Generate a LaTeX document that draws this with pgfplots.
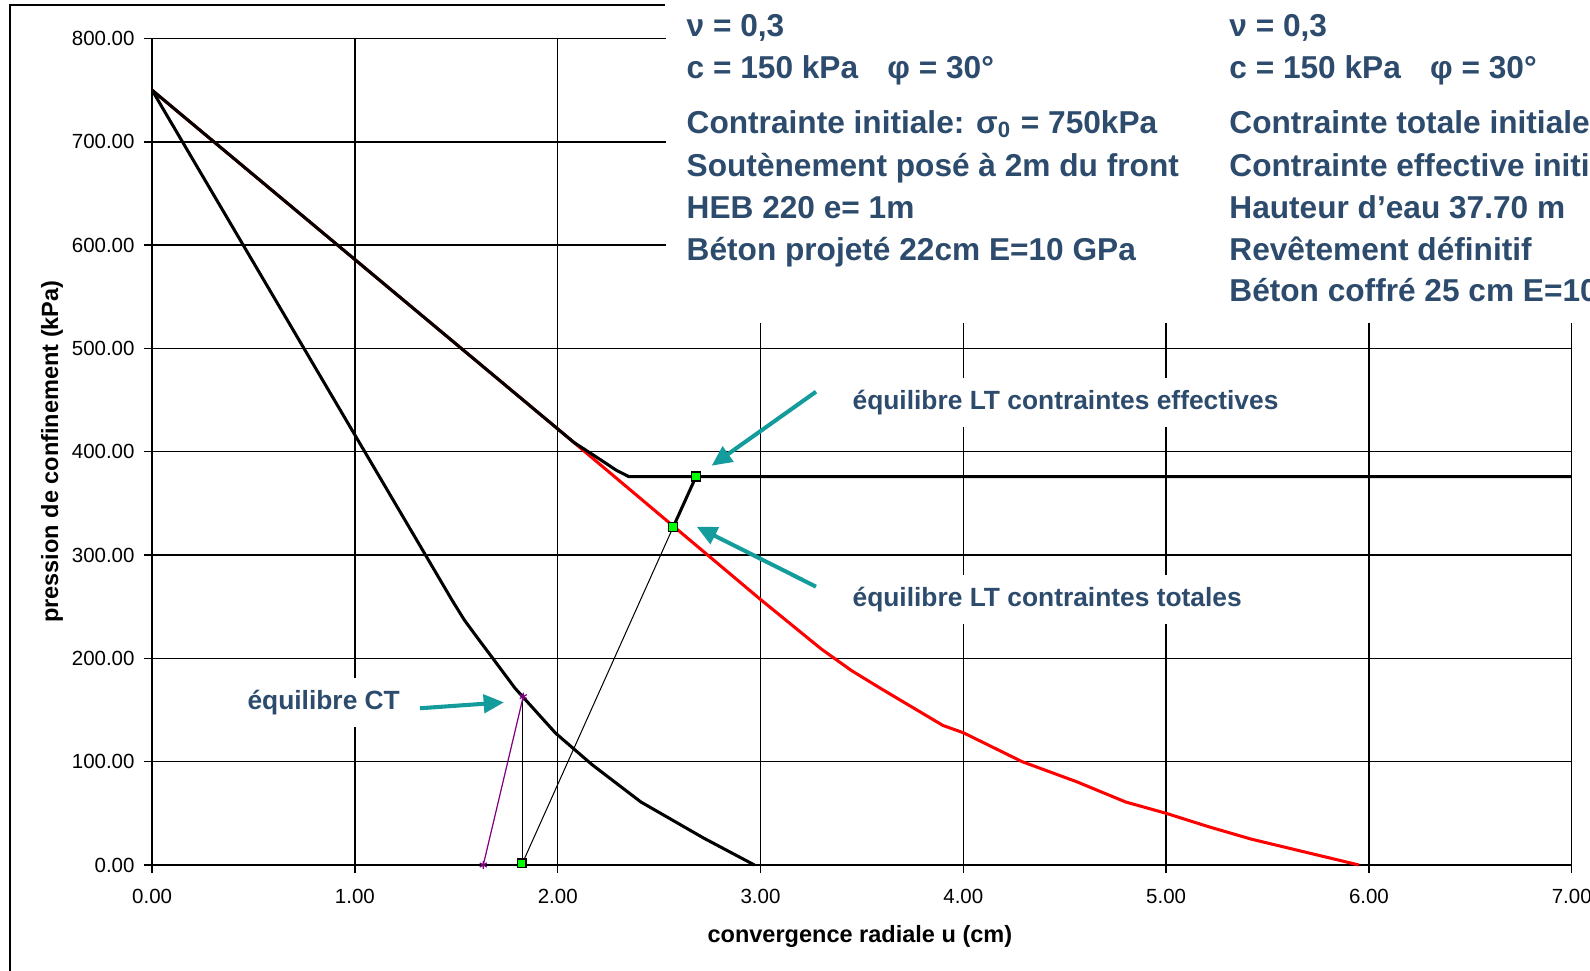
\documentclass[border=0pt]{standalone}
\usepackage{pgfplots}
\pgfplotsset{compat=1.18}
\usepackage{fontspec}
\setmainfont{Liberation Sans}
\usetikzlibrary{arrows.meta}
\definecolor{slate}{RGB}{45,75,108}
\definecolor{teal2}{RGB}{20,155,155}
\definecolor{lgreen}{RGB}{0,255,0}
\definecolor{purp}{RGB}{128,0,128}
\newcommand{\boxfont}{\fontsize{7.8pt}{9pt}\selectfont\bfseries}
\newcommand{\annfont}{\fontsize{6.5pt}{7.5pt}\selectfont\bfseries}
\begin{document}
\begin{tikzpicture}
\useasboundingbox (0,0) rectangle (392pt,239.25pt);
\begin{scope}
\clip (0,0) rectangle (392pt,239.25pt);
\begin{axis}[
  scale only axis, width=350pt, height=203.75pt,
  at={(37.5pt,26pt)}, anchor=south west,
  xmin=0, xmax=7, ymin=0, ymax=800,
  xtick={0,1,...,7}, ytick={0,100,...,800},
  axis x line*=bottom, axis y line*=left,
  axis line style={black, line width=0.45pt, -},
  grid=major, major grid style={black, line width=0.33pt},
  tick align=outside, major tick length=2pt,
  tick style={black, line width=0.33pt},
  ticklabel style={font=\fontsize{5.05pt}{5.6pt}\selectfont},
  yticklabel style={xshift=1.2pt},
  xticklabel style={yshift=-0.5pt},
  /pgf/number format/assume math mode=true,
  /pgf/number format/fixed, /pgf/number format/fixed zerofill,
  /pgf/number format/precision=2, /pgf/number format/1000 sep={},
  clip=false,
]
% long-term (total stress) convergence curve
\addplot[red, line width=0.75pt] coordinates {(0,750) (2.08,409) (2.57,328) (3.0,257) (3.3,209) (3.45,188) (3.6,170) (3.9,135) (4.0,128) (4.29,100) (4.56,80.5) (4.8,61) (5.0,50) (5.21,37) (5.42,25) (5.95,0)};
% long-term (effective stress) convergence curve
\addplot[black, line width=0.75pt] coordinates {(0,750) (2.08,409) (2.19,395) (2.29,382) (2.35,376) (7,376)};
% short-term convergence curve
\addplot[black, line width=0.75pt] coordinates {(0,750) (1.48,256) (1.54,237) (1.60,221) (1.68,200) (1.79,171) (1.99,127.5) (2.17,97) (2.41,61) (2.72,26) (2.97,0)};
% lining confinement curves
\addplot[black, line width=0.25pt] coordinates {(1.822,0) (2.57,327.4)};
\addplot[black, line width=0.75pt] coordinates {(2.57,327.4) (2.682,376)};
\addplot[black, line width=0.3pt] coordinates {(1.826,0) (1.826,163)};
\addplot[purp, line width=0.3pt, mark=asterisk, mark size=1pt, mark options={line width=0.3pt}] coordinates {(1.633,0) (1.83,163)};
\addplot[only marks, mark=square*, mark size=1.1pt, mark options={fill=lgreen, draw=black, line width=0.3pt}] coordinates {(1.822,1.5) (2.57,327.4) (2.682,376)};
% annotations
\node[font=\annfont, text=slate, fill=white, anchor=base west, inner xsep=2pt, inner ysep=3pt, xshift=-2pt] at (axis cs:0.4665,150.2) {équilibre CT};
\draw[teal2, line width=1pt, -{Triangle[length=5pt,width=4.5pt]}] (axis cs:1.321,151.7) -- (axis cs:1.735,157.4);
\node[font=\annfont, text=slate, fill=white, anchor=base west, inner xsep=2pt, inner ysep=3pt, xshift=-2pt] at (axis cs:3.45,441.1) {équilibre LT contraintes effectives};
\draw[teal2, line width=1pt, -{Triangle[length=5pt,width=4.5pt]}] (axis cs:3.2735,458.1) -- (axis cs:2.759,386.5);
\node[font=\annfont, text=slate, fill=white, anchor=base west, inner xsep=2pt, inner ysep=3pt, xshift=-2pt] at (axis cs:3.45,250.6) {équilibre LT contraintes totales};
\draw[teal2, line width=1pt, -{Triangle[length=5pt,width=4.5pt]}] (axis cs:3.2735,269.4) -- (axis cs:2.685,327.5);
\end{axis}
% frame and text box
\draw[black, line width=0.5pt] (2.5pt,-2pt) -- (2.5pt,238pt) -- (164pt,238pt);
\fill[white] (164.2pt,159.6pt) rectangle (395pt,242pt);
\begin{scope}[every node/.style={font=\boxfont, text=slate, anchor=base west, inner sep=0pt}]
\node at (169.1pt,230.2pt) {ν = 0,3};
\node at (169.1pt,219.9pt) {c = 150 kPa};
\node at (218.6pt,219.9pt) {φ = 30°};
\node at (169.1pt,206.4pt) {Contrainte initiale: σ\textsubscript{0} = 750kPa};
\node at (169.1pt,195.85pt) {Soutènement posé à 2m du front};
\node at (169.1pt,185.4pt) {HEB 220 e= 1m};
\node at (169.1pt,175.15pt) {Béton projeté 22cm E=10 GPa};
\node at (302.9pt,230.2pt) {ν = 0,3};
\node at (302.9pt,219.9pt) {c = 150 kPa};
\node at (352.4pt,219.9pt) {φ = 30°};
\node at (302.9pt,206.4pt) {Contrainte totale initiale: σ\textsubscript{0} = 750kPa};
\node at (302.9pt,195.85pt) {Contrainte effective initiale: σ'\textsubscript{0} = 373kPa};
\node at (302.9pt,185.4pt) {Hauteur d’eau 37.70 m};
\node at (302.9pt,175.15pt) {Revêtement définitif};
\node at (302.9pt,164.9pt) {Béton coffré 25 cm E=10 GPa};
\end{scope}
% axis labels
\node[font=\fontsize{5.8pt}{7pt}\selectfont\bfseries, anchor=base, inner sep=0pt] at (212pt,6.8pt) {convergence radiale u (cm)};
\node[font=\fontsize{5.8pt}{7pt}\selectfont\bfseries, anchor=base, rotate=90, inner sep=0pt] at (14.3pt,127.9pt) {pression de confinement (kPa)};
\end{scope}
\end{tikzpicture}
\end{document}
